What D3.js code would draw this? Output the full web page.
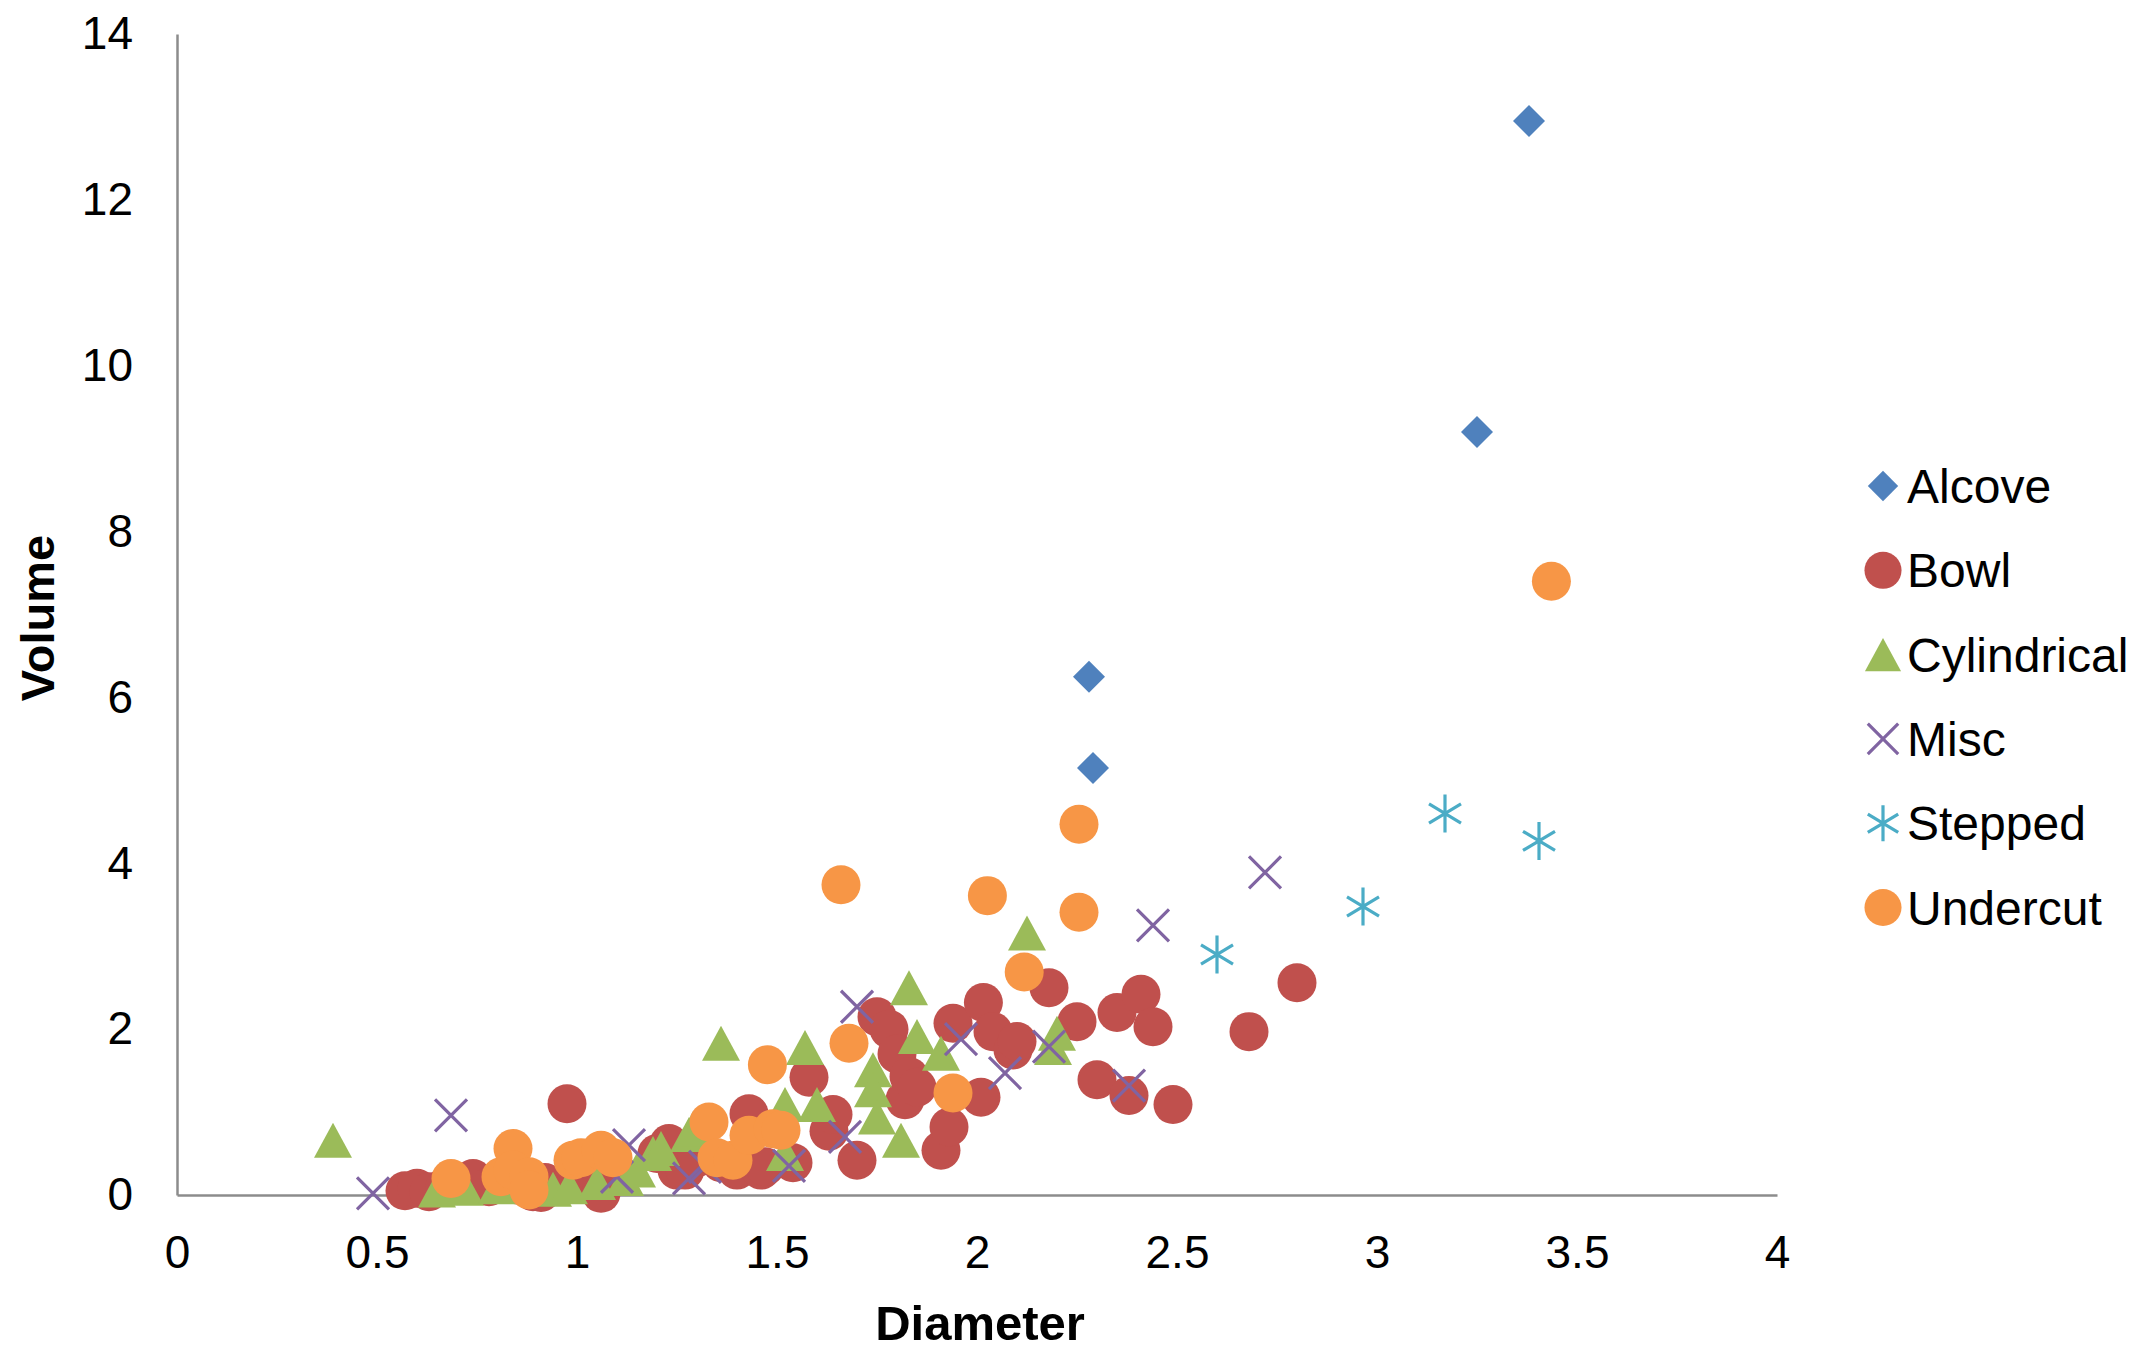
<!DOCTYPE html>
<html>
<head>
<meta charset="utf-8">
<script src="https://cdn.jsdelivr.net/npm/d3@7"></script>
<style>
  html, body { margin: 0; padding: 0; background: #fff; }
  svg { display: block; }
  text { font-family: "Liberation Sans", Arial, sans-serif; fill: #000; }
</style>
</head>
<body>
<svg id="chart" width="2143" height="1349"></svg>
<script>
// ---- data (Diameter, Volume) ----
const seriesNames = ["Alcove", "Bowl", "Cylindrical", "Misc", "Stepped", "Undercut"];
const seriesColors = ["#4F81BD", "#C0504D", "#9BBB59", "#8064A2", "#4BACC6", "#F79646"];

const alcove = [[2.28, 6.25], [2.29, 5.15], [3.25, 9.2], [3.38, 12.95]];

const bowl = [
  [0.57, 0.05], [0.60, 0.08], [0.63, 0.04], [0.67, 0.1], [0.72, 0.12], [0.74, 0.2],
  [0.78, 0.1], [0.85, 0.12], [0.89, 0.04], [0.91, 0.03], [0.92, 0.15], [0.975, 1.1],
  [1.0, 0.2], [1.05, 0.1], [1.06, 0.02], [1.1, 0.25], [1.2, 0.5], [1.23, 0.62],
  [1.25, 0.3], [1.27, 0.3], [1.3, 0.45], [1.36, 0.39], [1.4, 0.3], [1.43, 0.98],
  [1.46, 0.3], [1.47, 0.34], [1.54, 0.39], [1.58, 1.42], [1.63, 0.77], [1.64, 0.97],
  [1.70, 0.42], [1.75, 2.15], [1.78, 2.0], [1.80, 1.7], [1.82, 1.15], [1.83, 1.43],
  [1.85, 1.3], [1.91, 0.54], [1.93, 0.82], [1.94, 2.07], [2.01, 1.18], [2.016, 2.32],
  [2.04, 1.97], [2.09, 1.75], [2.10, 1.85], [2.18, 2.5], [2.25, 2.09], [2.30, 1.39],
  [2.35, 2.2], [2.38, 1.2], [2.41, 2.42], [2.44, 2.03], [2.49, 1.09], [2.68, 1.97],
  [2.80, 2.56]
];

const cylindrical = [
  [0.39, 0.66], [0.65, 0.06], [0.72, 0.08], [0.8, 0.1], [0.94, 0.07], [0.98, 0.1],
  [1.05, 0.15], [1.12, 0.2], [1.15, 0.3], [1.19, 0.5], [1.21, 0.56], [1.28, 0.73],
  [1.29, 0.8], [1.36, 1.83], [1.52, 1.09], [1.52, 0.5], [1.57, 1.78], [1.60, 1.09],
  [1.74, 1.51], [1.74, 1.27], [1.75, 0.94], [1.81, 0.66], [1.83, 2.5], [1.85, 1.91],
  [1.91, 1.71], [2.125, 3.16], [2.19, 1.78], [2.2, 1.95]
];

const misc = [
  [0.49, 0.02], [0.685, 0.96], [1.10, 0.22], [1.13, 0.6], [1.28, 0.2], [1.32, 0.34],
  [1.53, 0.35], [1.67, 0.7], [1.70, 2.27], [1.96, 1.88], [2.07, 1.47], [2.18, 1.79],
  [2.38, 1.32], [2.44, 3.25], [2.72, 3.89]
];

const stepped = [[2.60, 2.9], [2.965, 3.48], [3.17, 4.6], [3.405, 4.27]];

const undercut = [
  [0.685, 0.2], [0.81, 0.22], [0.84, 0.56], [0.84, 0.3], [0.88, 0.22], [0.88, 0.06],
  [0.99, 0.42], [1.01, 0.45], [1.06, 0.54], [1.09, 0.45], [1.33, 0.88], [1.35, 0.45],
  [1.39, 0.42], [1.43, 0.72], [1.49, 0.8], [1.51, 0.78], [1.476, 1.57], [1.68, 1.83],
  [1.66, 3.74], [1.94, 1.23], [2.026, 3.61], [2.118, 2.69], [2.255, 4.47], [2.255, 3.41],
  [3.436, 7.4]
];

const xTicks = [0, 0.5, 1, 1.5, 2, 2.5, 3, 3.5, 4];
const yTicks = [0, 2, 4, 6, 8, 10, 12, 14];
const xTitle = "Diameter";
const yTitle = "Volume";

// ---- layout ----
const svg = d3.select("#chart");
const plotLeft = 177, plotRight = 1777, plotTop = 34, plotBottom = 1195;

const x = d3.scaleLinear().domain([0, 4]).range([plotLeft, plotRight]);
const y = d3.scaleLinear().domain([0, 14]).range([plotBottom, plotTop]);

// axes
const xAxis = d3.axisBottom(x).tickValues(xTicks).tickSize(0).tickSizeOuter(0).tickPadding(40)
  .tickFormat(d => String(d));
const yAxis = d3.axisLeft(y).tickValues(yTicks).tickSize(0).tickSizeOuter(0).tickPadding(44)
  .tickFormat(d => String(d));

const gx = svg.append("g").attr("transform", `translate(0,${plotBottom})`).call(xAxis);
const gy = svg.append("g").attr("transform", `translate(${plotLeft},0)`).call(yAxis);
[gx, gy].forEach(g => {
  g.select(".domain").attr("stroke", "#8c8c8c").attr("stroke-width", 2.5);
  g.selectAll("text").attr("font-size", 46).attr("fill", "#000")
    .attr("font-family", "'Liberation Sans', Arial, sans-serif");
});

// axis titles
svg.append("text").attr("x", 980).attr("y", 1340)
  .attr("text-anchor", "middle").attr("font-size", 49).attr("font-weight", "bold")
  .text(xTitle);
svg.append("text").attr("transform", `translate(54,618) rotate(-90)`)
  .attr("text-anchor", "middle").attr("font-size", 47).attr("font-weight", "bold")
  .text(yTitle);

// ---- marker drawing ----
function drawMarker(g, type, color, scale) {
  const s = scale || 1;
  if (type === "diamond") {
    const h = 16 * s;
    g.append("path").attr("d", `M0,${-h}L${h},0L0,${h}L${-h},0Z`).attr("fill", color);
  } else if (type === "circle") {
    g.append("circle").attr("r", 19.5 * s).attr("fill", color);
  } else if (type === "triangle") {
    const w = 19 * s, h = 17.5 * s;
    g.append("path").attr("d", `M0,${-h}L${w},${h}L${-w},${h}Z`).attr("fill", color);
  } else if (type === "x") {
    const h = 16 * s;
    g.append("path").attr("d", `M${-h},${-h}L${h},${h}M${-h},${h}L${h},${-h}`)
      .attr("stroke", color).attr("stroke-width", 3.2).attr("fill", "none");
  } else if (type === "asterisk") {
    const h = 16 * s, v = 19 * s;
    g.append("path").attr("d", `M${-h},${-h * 0.6}L${h},${h * 0.6}M${-h},${h * 0.6}L${h},${-h * 0.6}M0,${-v}L0,${v}`)
      .attr("stroke", color).attr("stroke-width", 3.2).attr("fill", "none");
  }
}

const seriesData = [alcove, bowl, cylindrical, misc, stepped, undercut];
const seriesMarkers = ["diamond", "circle", "triangle", "x", "asterisk", "circle"];

seriesData.forEach((data, i) => {
  const layer = svg.append("g");
  data.forEach(d => {
    const g = layer.append("g").attr("transform", `translate(${x(d[0])},${y(d[1])})`);
    drawMarker(g, seriesMarkers[i], seriesColors[i], 1);
  });
});

// ---- legend ----
const legend = svg.append("g");
seriesNames.forEach((name, i) => {
  const cy = 486 + i * 84.3;
  const g = legend.append("g").attr("transform", `translate(1883,${cy})`);
  drawMarker(g, seriesMarkers[i], seriesColors[i], 0.95);
  legend.append("text").attr("x", 1907).attr("y", cy + 17)
    .attr("font-size", 48).text(name);
});
</script>
</body>
</html>
